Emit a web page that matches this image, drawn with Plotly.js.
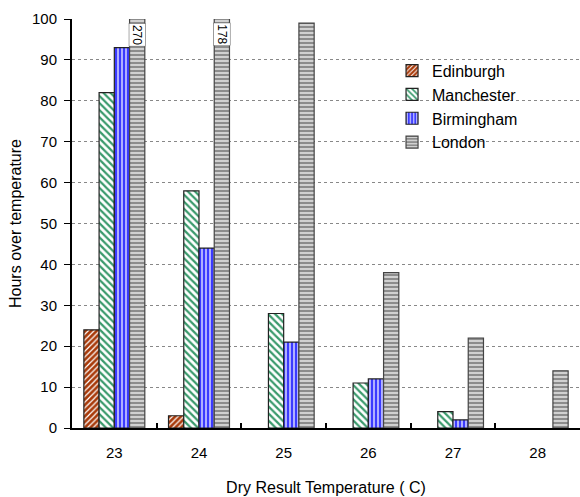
<!DOCTYPE html>
<html>
<head>
<meta charset="utf-8">
<script src="https://cdn.plot.ly/plotly-3.0.1.min.js"></script>
<style>html,body{margin:0;padding:0;background:#fff;}#chart{width:580px;height:497px;}</style>
</head>
<body>
<div id="chart"></div>
<script>
const categories = ['23', '24', '25', '26', '27', '28'];
const edinburgh = [24, 3, 0, 0, 0, 0];
const manchester = [82, 58, 28, 11, 4, 0];
const birmingham = [93, 44, 21, 12, 2, 0];
const london = [270, 178, 99, 38, 22, 14];
const seriesNames = ['Edinburgh', 'Manchester', 'Birmingham', 'London'];
const yMax = 100;

const FONT = 'Liberation Sans, Arial, sans-serif';
const bargap = 0.28;

const styles = [
  {pattern: {shape: '/', bgcolor: '#a83a0a', fgcolor: '#ffffff', size: 4, solidity: 0.3}, line: '#222'},
  {pattern: {shape: '\\', bgcolor: '#ffffff', fgcolor: '#3a9a6c', size: 5, solidity: 0.45}, line: '#222'},
  {pattern: {shape: '|', bgcolor: '#3b3bff', fgcolor: '#ffffff', size: 4, solidity: 0.3}, line: '#222'},
  {pattern: {shape: '-', bgcolor: '#8c8c8c', fgcolor: '#ffffff', size: 4, solidity: 0.3}, line: '#444'}
];
const allSeries = [edinburgh, manchester, birmingham, london];

const traces = allSeries.map((vals, i) => ({
  type: 'bar',
  name: seriesNames[i],
  x: categories,
  y: vals,
  marker: {
    color: styles[i].pattern.bgcolor,
    pattern: styles[i].pattern,
    line: {color: styles[i].line, width: vals.map(v => v === 0 ? 0 : 1.2)}
  },
  hoverinfo: 'x+y+name'
}));

// labels for London bars that run off the top of the axis
const nS = allSeries.length;
const barW = (1 - bargap) / nS;
const londonOffset = -((1 - bargap) / 2) + barW * (nS - 1) + barW / 2;
const annotations = [];
london.forEach((v, i) => {
  if (v > yMax) {
    annotations.push({
      x: i + londonOffset, y: yMax - 1, xref: 'x', yref: 'y',
      text: String(v), textangle: 90, showarrow: false,
      yanchor: 'top', xanchor: 'center',
      bgcolor: '#ffffff', bordercolor: '#666', borderwidth: 0.5, borderpad: 1,
      font: {family: FONT, size: 12, color: '#000'}
    });
  }
});

const layout = {
  width: 580, height: 497,
  margin: {l: 72, r: 0, t: 19, b: 69},
  paper_bgcolor: '#fff', plot_bgcolor: '#fff',
  barmode: 'group', bargap: bargap, bargroupgap: 0,
  font: {family: FONT, size: 15, color: '#000'},
  showlegend: true,
  legend: {x: 0.63, y: 0.915, xanchor: 'left', yanchor: 'top', bgcolor: 'rgba(0,0,0,0)',
           font: {family: FONT, size: 16}, traceorder: 'normal', itemwidth: 30},
  xaxis: {
    type: 'category', range: [-0.5, 5.5],
    showline: true, linecolor: '#000', linewidth: 2,
    ticks: 'inside', tickson: 'boundaries', ticklen: 5, tickcolor: '#000', tickwidth: 2,
    showgrid: false, zeroline: false,
    tickfont: {family: FONT, size: 15},
    ticklabelstandoff: 10,
    title: {text: 'Dry Result Temperature ( C)', font: {family: FONT, size: 16}, standoff: 22}
  },
  yaxis: {
    range: [0, yMax], dtick: 10,
    showline: true, linecolor: '#000', linewidth: 2,
    ticks: 'outside', ticklen: 6, tickcolor: '#000', tickwidth: 1,
    showgrid: true, gridcolor: '#888', griddash: 'dot', gridwidth: 1,
    zeroline: false,
    tickfont: {family: FONT, size: 15},
    ticklabelstandoff: 4,
    title: {text: 'Hours over temperature', font: {family: FONT, size: 16}, standoff: 6}
  },
  annotations: annotations
};

Plotly.newPlot('chart', traces, layout, {displayModeBar: false, staticPlot: true});
</script>
</body>
</html>
